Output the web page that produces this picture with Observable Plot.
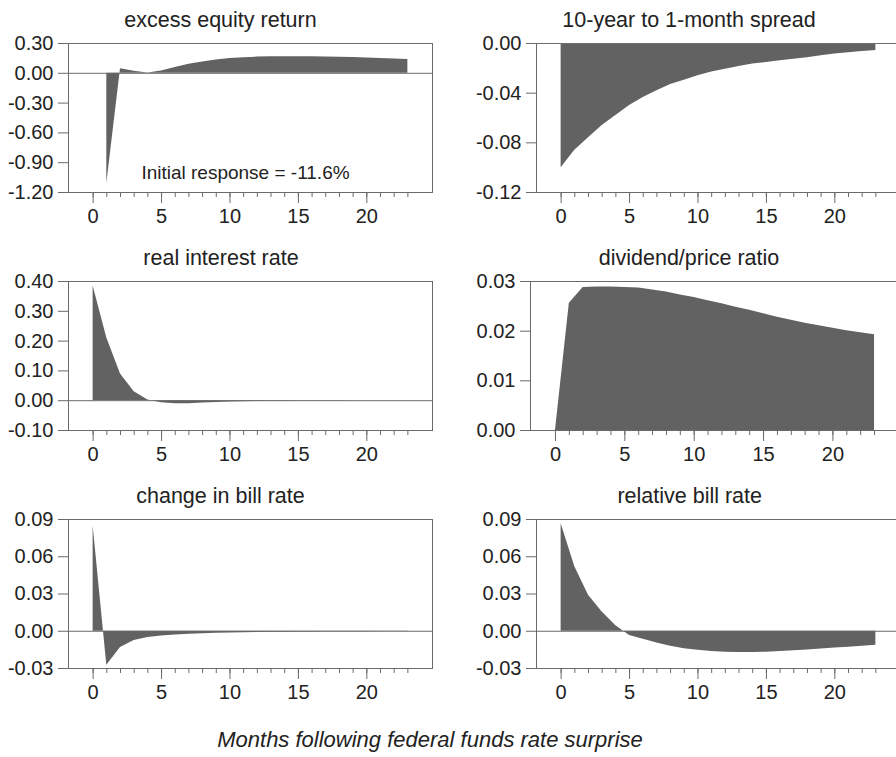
<!DOCTYPE html>
<html>
<head>
<meta charset="utf-8">
<script src="https://cdn.jsdelivr.net/npm/d3@7"></script>
<script src="https://cdn.jsdelivr.net/npm/@observablehq/plot@0.6"></script>
<style>
  html, body { margin: 0; padding: 0; background: #fff; overflow: hidden; }
  #root { position: relative; width: 896px; height: 757px; overflow: hidden; font-family: "Liberation Sans", Arial, Helvetica, sans-serif; color: #222; }
  .panel { position: absolute; }
  .panel svg { max-width: none !important; }
  .title { position: absolute; width: 400px; text-align: center; font-size: 21.5px; line-height: 24px; white-space: nowrap; }
  .caption { position: absolute; width: 896px; text-align: center; font-size: 22px; line-height: 26px; font-style: italic; }
</style>
</head>
<body>
<div id="root"></div>
<script>
// ---- data ----
const months = [0,1,2,3,4,5,6,7,8,9,10,11,12,13,14,15,16,17,18,19,20,21,22,23];
const majorTicks = [0,5,10,15,20];

const excessEquity = [null, -1.11, 0.045, 0.02, 0.004, 0.024, 0.058, 0.09, 0.115, 0.135, 0.148, 0.157,
  0.163, 0.166, 0.167, 0.167, 0.166, 0.164, 0.161, 0.158, 0.154, 0.15, 0.145, 0.139];
const spread = [-0.100, -0.086, -0.076, -0.066, -0.058, -0.050, -0.0435, -0.038, -0.033, -0.0295, -0.026, -0.023,
  -0.0207, -0.0185, -0.0166, -0.0153, -0.0139, -0.0126, -0.0114, -0.0099, -0.0085, -0.0075, -0.0065, -0.0056];
const realRate = [0.385, 0.21, 0.09, 0.03, 0.002, -0.007, -0.01, -0.01, -0.008, -0.006, -0.0045, -0.0035,
  -0.0025, -0.002, -0.0015, -0.001, -0.001, -0.0008, -0.0006, -0.0005, -0.0004, -0.0003, -0.0002, -0.0002];
const dividendPrice = [0, 0.0256, 0.0288, 0.0289, 0.0289, 0.0288, 0.0287, 0.0283, 0.0279, 0.0273, 0.0268, 0.0261,
  0.0255, 0.0248, 0.0242, 0.0235, 0.0228, 0.0222, 0.0216, 0.0211, 0.0206, 0.0201, 0.0197, 0.0193];
const billChange = [0.085, -0.0274, -0.013, -0.0075, -0.005, -0.0038, -0.003, -0.0025, -0.002, -0.0017, -0.0014, -0.0012,
  -0.001, -0.0009, -0.0008, -0.0007, -0.0006, -0.0005, -0.0005, -0.0004, -0.0004, -0.0003, -0.0003, -0.0003];
const relativeBill = [0.0865, 0.052, 0.029, 0.0155, 0.0045, -0.0035, -0.0065, -0.0094, -0.012, -0.014, -0.0153, -0.0163,
  -0.0169, -0.0171, -0.0171, -0.0169, -0.0163, -0.0158, -0.015, -0.0142, -0.0134, -0.0129, -0.012, -0.0113];

const titles = ["excess equity return", "10-year to 1-month spread", "real interest rate",
  "dividend/price ratio", "change in bill rate", "relative bill rate"];
const yTicks = [
  [0.30, 0.00, -0.30, -0.60, -0.90, -1.20],
  [0.00, -0.04, -0.08, -0.12],
  [0.40, 0.30, 0.20, 0.10, 0.00, -0.10],
  [0.03, 0.02, 0.01, 0.00],
  [0.09, 0.06, 0.03, 0.00, -0.03],
  [0.09, 0.06, 0.03, 0.00, -0.03]
];
const series = [excessEquity, spread, realRate, dividendPrice, billChange, relativeBill];
const annotation = "Initial response = -11.6%";
const caption = "Months following federal funds rate surprise";

// ---- layout (positions only) ----
const layout = [
  {left: 0,   top: 33,  ml: 68, fw: 364, tx: 220.5, ty: 7.7},
  {left: 446, top: 33,  ml: 90, fw: 364, tx: 689,   ty: 7.7},
  {left: 0,   top: 271, ml: 68, fw: 364, tx: 221,   ty: 246.2},
  {left: 446, top: 271, ml: 84, fw: 369, tx: 689,   ty: 246.2},
  {left: 0,   top: 509, ml: 68, fw: 364, tx: 220.5, ty: 483.5},
  {left: 446, top: 509, ml: 90, fw: 364, tx: 689.7, ty: 483.5}
];

const root = document.getElementById("root");
const fill = "#626262";
const lineColor = "#6a6a6a";

series.forEach((vals, i) => {
  const L = layout[i];
  const ticks = yTicks[i];
  const data = months.map((m, j) => ({m, v: vals[j]}));
  const marks = [
    Plot.areaY(data, {x: "m", y1: 0, y2: "v", fill, curve: "linear"}),
    Plot.ruleY([0], {stroke: lineColor, strokeWidth: 1}),
    Plot.frame({stroke: lineColor, strokeWidth: 1}),
    Plot.axisY({ticks, tickSize: 10, tickPadding: 5, label: null, stroke: lineColor,
      tickFormat: d => d.toFixed(2)}),
    Plot.axisX({ticks: months, tickSize: 5, label: null, stroke: lineColor, tickFormat: () => ""}),
    Plot.axisX({ticks: majorTicks, tickSize: 11, tickPadding: 5, label: null, stroke: lineColor,
      tickFormat: d => String(d)})
  ];
  if (i === 0) {
    marks.push(Plot.text([annotation], {text: d => d, frameAnchor: "bottom", lineAnchor: "middle",
      dy: -20, dx: -5, fontSize: 19, fill: "#222"}));
  }
  const w = L.ml + L.fw + 6;
  const chart = Plot.plot({
    width: w,
    height: 10 + 149 + 40,
    marginLeft: L.ml,
    marginRight: 6,
    marginTop: 10,
    marginBottom: 40,
    x: {domain: [-1.8, 24.8]},
    y: {domain: [ticks[ticks.length - 1], ticks[0]]},
    style: {fontFamily: '"Liberation Sans", Arial, Helvetica, sans-serif', fontSize: "20px",
      color: "#222", background: "transparent", overflow: "visible", maxWidth: "none"},
    marks
  });
  const wrap = document.createElement("div");
  wrap.className = "panel";
  wrap.style.left = L.left + "px";
  wrap.style.top = L.top + "px";
  wrap.style.width = w + "px";
  wrap.appendChild(chart);
  root.appendChild(wrap);

  const t = document.createElement("div");
  t.className = "title";
  t.textContent = titles[i];
  t.style.left = (L.tx - 200) + "px";
  t.style.top = L.ty + "px";
  root.appendChild(t);
});

const cap = document.createElement("div");
cap.className = "caption";
cap.textContent = caption;
cap.style.left = (430 - 448) + "px";
cap.style.top = "727px";
root.appendChild(cap);
</script>
</body>
</html>
